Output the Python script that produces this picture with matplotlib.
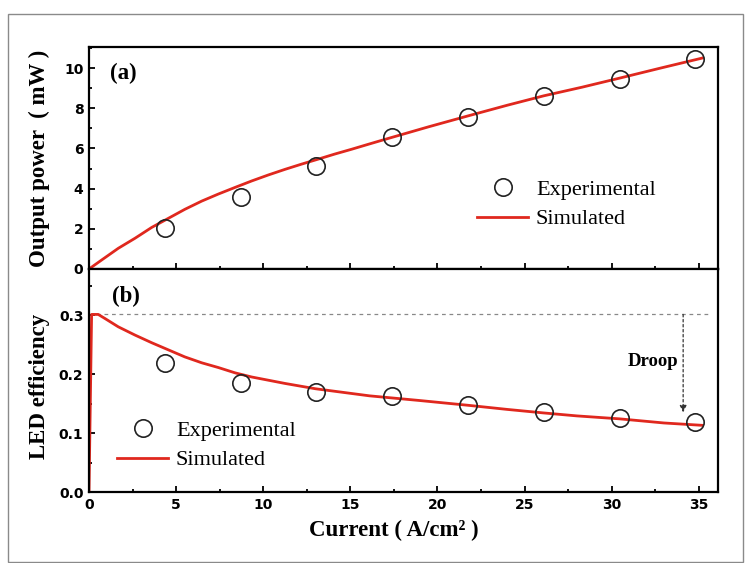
import matplotlib
matplotlib.use("Agg")
import matplotlib.pyplot as plt
from matplotlib.patches import Rectangle
from matplotlib.ticker import MultipleLocator

# ---- data ----
current_exp = [4.35, 8.7, 13.05, 17.4, 21.75, 26.1, 30.45, 34.8]
power_exp = [2.03, 3.60, 5.14, 6.57, 7.58, 8.62, 9.45, 10.45]
eff_exp = [0.219, 0.185, 0.170, 0.162, 0.147, 0.136, 0.126, 0.119]

current_sim_p = [0, 0.73, 1.68, 2.64, 3.6, 4.55, 5.5, 6.47, 7.42, 8.38, 9.33, 10.29, 11.25,
                 12.2, 13.16, 14.1, 15.07, 16.0, 16.98, 19.5, 21.75, 24.0, 26.1, 28.3, 30.45,
                 32.8, 35.2]
power_sim = [0, 0.45, 1.03, 1.53, 2.07, 2.52, 2.97, 3.38, 3.73, 4.06, 4.38, 4.68, 4.96,
             5.22, 5.47, 5.72, 5.96, 6.2, 6.45, 7.08, 7.62, 8.15, 8.62, 9.05, 9.5,
             10.0, 10.5]

current_sim_e = [0, 0.15, 0.53, 0.92, 1.68, 2.64, 3.6, 4.55, 5.5, 6.47, 7.42, 8.38, 9.33,
                 11.25, 13.0, 16.1, 19.0, 21.75, 24.0, 26.1, 28.0, 30.45, 33.0, 35.2]
eff_sim = [0, 0.301, 0.301, 0.294, 0.280, 0.266, 0.253, 0.241, 0.229, 0.219, 0.211, 0.202,
           0.195, 0.184, 0.175, 0.163, 0.155, 0.147, 0.140, 0.134, 0.129, 0.124, 0.117, 0.113]

eff_peak = 0.301
droop_x = 34.1
droop_end = 0.135

x_ticks = [0, 5, 10, 15, 20, 25, 30, 35]
p_ticks = [0, 2, 4, 6, 8, 10]
e_ticks = [0.0, 0.1, 0.2, 0.3]
e_tick_labels = ["0.0", "0.1", "0.2", "0.3"]

RED = "#e0281e"
serif = "Liberation Serif"
sans = "DejaVu Sans"

fig = plt.figure(figsize=(7.47, 5.63), dpi=100)
fig.patch.set_facecolor("white")
fig.add_artist(Rectangle((8/747, 1-562/563), 735/747, 548/563, transform=fig.transFigure,
                         fill=False, edgecolor="#8a8a8a", linewidth=1.0))

ax1 = fig.add_axes([89/747, 1-269/563, 629/747, 222/563])
ax2 = fig.add_axes([89/747, 1-492/563, 629/747, 223/563])

for ax in (ax1, ax2):
    ax.set_xlim(0, 36.1)
    ax.xaxis.set_major_locator(MultipleLocator(5))
    ax.xaxis.set_minor_locator(MultipleLocator(2.5))
    ax.tick_params(which="both", direction="in", top=False, right=False, width=1.3)
    ax.tick_params(which="major", length=4, pad=4)
    ax.tick_params(which="minor", length=2.5)
    for s in ax.spines.values():
        s.set_linewidth(1.6)

legend_kw = dict(loc="upper left", bbox_transform=fig.transFigure, frameon=False,
                 borderpad=0, borderaxespad=0, handlelength=2.3, handletextpad=0.35,
                 labelspacing=0.42, prop={"family": serif, "size": 16})

# top panel
ax1.plot(current_sim_p, power_sim, color=RED, lw=2.0, label="Simulated", zorder=2)
ax1.plot(current_exp, power_exp, linestyle="none", marker="o", ms=12.5, mfc="none",
         mec="#222222", mew=1.2, label="Experimental", zorder=3)
ax1.set_ylim(0, 11.05)
ax1.set_yticks(p_ticks)
ax1.yaxis.set_minor_locator(MultipleLocator(1))
ax1.set_xticks(x_ticks)
ax1.tick_params(axis="x", labelbottom=False)
ax1.set_yticklabels([str(v) for v in p_ticks], fontfamily=sans, fontweight="bold", fontsize=10)
ax1.set_ylabel("Output power  ( mW )", fontfamily=serif, fontweight="bold", fontsize=16.5)
ax1.yaxis.set_label_coords(-0.062, 0.498)
ax1.text(1.2, 9.75, "(a)", fontfamily=serif, fontweight="bold", fontsize=16.5, va="center", ha="left")
h, l = ax1.get_legend_handles_labels()
ax1.legend([h[1], h[0]], [l[1], l[0]], bbox_to_anchor=(477/747, 1-179/563), **legend_kw)

# bottom panel
ax2.plot([0, 35.5], [eff_peak, eff_peak], color="#888888", lw=0.9, ls=(0, (3, 3)), zorder=1)
ax2.plot(current_sim_e, eff_sim, color=RED, lw=2.0, label="Simulated", zorder=2)
ax2.plot(current_exp, eff_exp, linestyle="none", marker="o", ms=12.5, mfc="none",
         mec="#222222", mew=1.2, label="Experimental", zorder=3)
ax2.annotate("", xy=(droop_x, droop_end), xytext=(droop_x, eff_peak),
             arrowprops=dict(arrowstyle="-|>", color="#333333", lw=0.9, ls=(0, (2, 2)),
                             mutation_scale=10, shrinkA=0, shrinkB=0))
ax2.text(33.8, 0.221, "Droop", fontfamily=serif, fontweight="bold", fontsize=13.5,
         ha="right", va="center")
ax2.set_ylim(0, 0.378)
ax2.set_yticks(e_ticks)
ax2.yaxis.set_minor_locator(MultipleLocator(0.05))
ax2.set_xticks(x_ticks)
ax2.set_xticklabels([str(v) for v in x_ticks], fontfamily=sans, fontweight="bold", fontsize=10)
ax2.set_yticklabels(e_tick_labels, fontfamily=sans, fontweight="bold", fontsize=10)
ax2.set_ylabel("LED efficiency", fontfamily=serif, fontweight="bold", fontsize=16.5)
ax2.yaxis.set_label_coords(-0.062, 0.475)
ax2.set_xlabel("Current ( A/cm\u00b2 )", fontfamily=serif, fontweight="bold", fontsize=16.5)
ax2.xaxis.set_label_coords(0.485, -0.125)
ax2.text(1.3, 0.331, "(b)", fontfamily=serif, fontweight="bold", fontsize=16.5, va="center", ha="left")
h, l = ax2.get_legend_handles_labels()
ax2.legend([h[1], h[0]], [l[1], l[0]], bbox_to_anchor=(117/747, 1-420/563), **legend_kw)

fig.savefig("out.png", dpi=100)
